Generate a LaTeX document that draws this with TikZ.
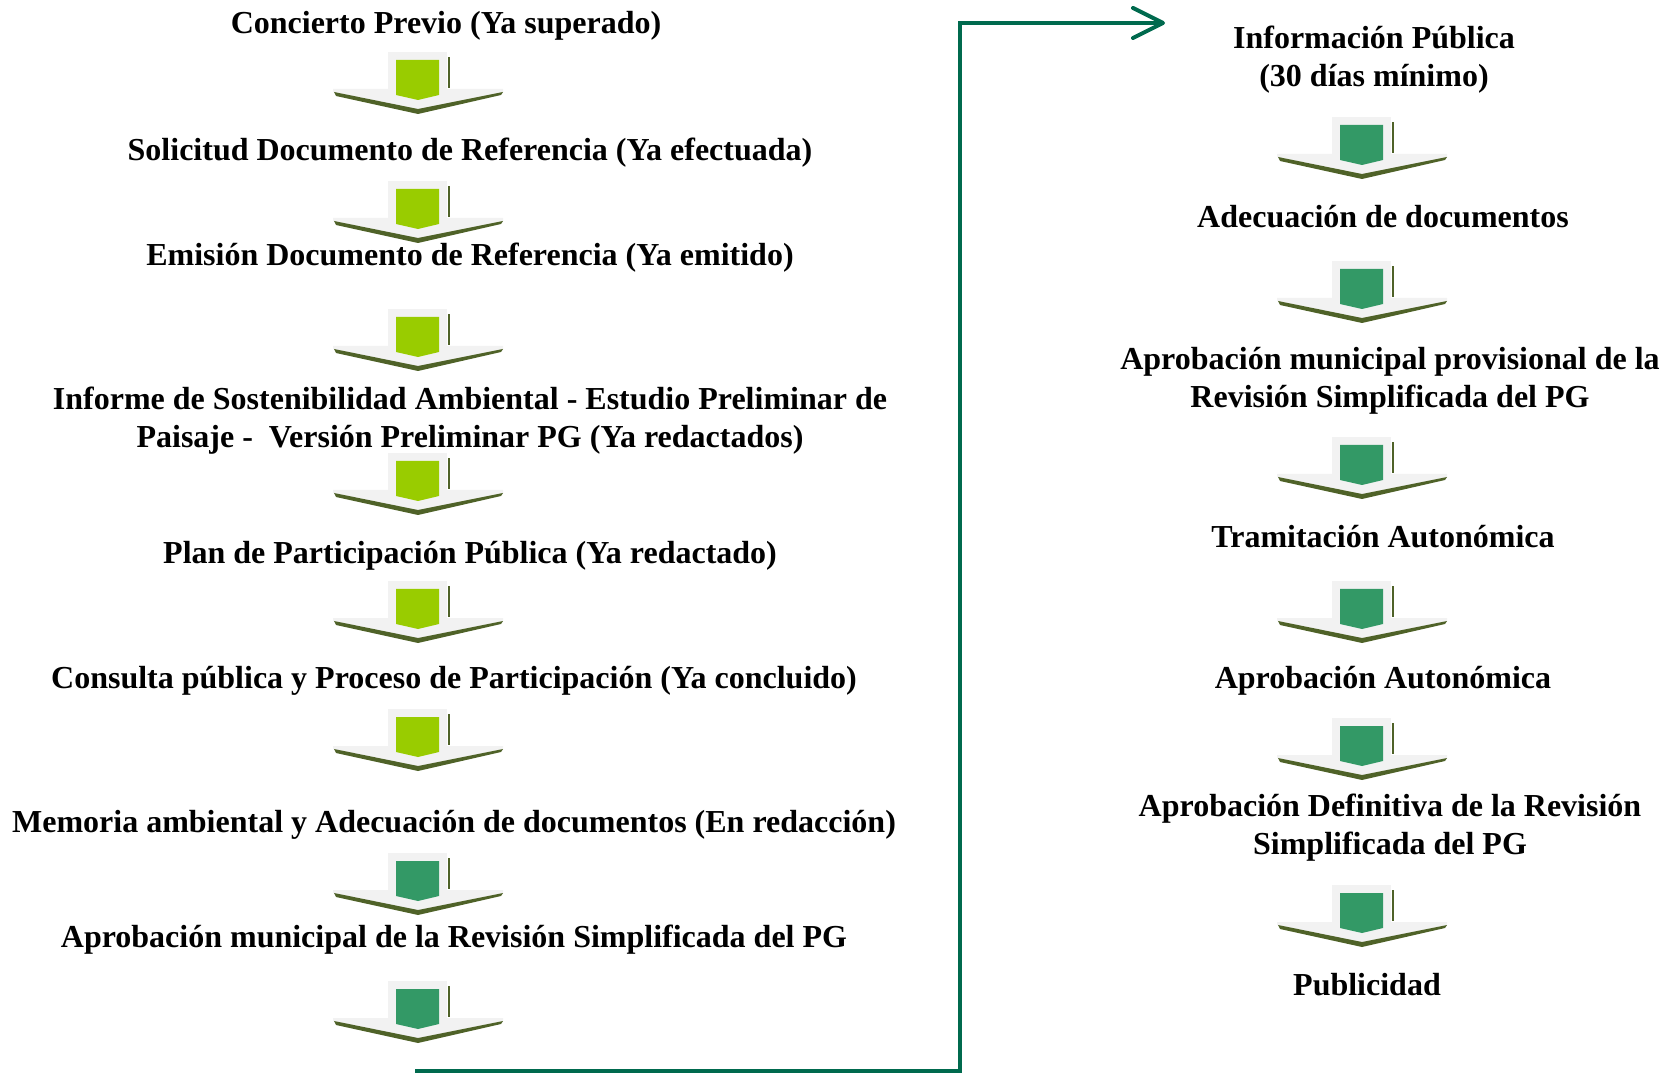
\documentclass[tikz,border=0pt]{standalone}
\usepackage{fontspec}
\setmainfont{Liberation Serif}
\usetikzlibrary{arrows.meta}
\definecolor{donefill}{HTML}{99CC00}
\definecolor{todofill}{HTML}{339966}
\definecolor{arrowshade}{HTML}{4F6228}
\definecolor{arrowface}{HTML}{F2F2F2}
\definecolor{linkgreen}{HTML}{006A4E}
\tikzset{
  stage/.style={font=\fontsize{16pt}{19pt}\selectfont\bfseries, align=center, inner sep=0pt},
  link/.style={draw=linkgreen, line width=2pt, -{Straight Barb[length=15pt,width=15pt,round]}},
  pics/downarrow/.style={code={
    \fill[arrowface] (-30,0) rectangle (29,38);
    \fill[arrowface] (-85,37) -- (85,37) -- (85,40) -- (0,57) -- (-85,40) -- cycle;
    \fill[arrowshade] (-84,40) -- (0,57) -- (85,40) -- (83,43) -- (0,62) -- (-82,44) -- cycle;
    \fill[arrowshade] (29.5,5) rectangle (31.5,36);
    \fill[#1] (-22,8) -- (21,8) -- (21,43) -- (0,48) -- (-22,43) -- cycle;
  }},
}
\begin{document}
\begin{tikzpicture}[x=0.5pt, y=-0.5pt]
  \useasboundingbox (0,0) rectangle (1670,1074);

  % Left column
  \node[stage] (concierto) at (446,26) {Concierto Previo (Ya superado)};
  \node[stage] (solicitud) at (470,153) {Solicitud Documento de Referencia (Ya efectuada)};
  \node[stage] (emision) at (470,258) {Emisión Documento de Referencia (Ya emitido)};
  \node[stage] (informe) at (470,421) {Informe de Sostenibilidad Ambiental - Estudio Preliminar de\\
    Paisaje -~ Versión Preliminar PG (Ya redactados)};
  \node[stage] (plan) at (470,556) {Plan de Participación Pública (Ya redactado)};
  \node[stage] (consulta) at (454,681) {Consulta pública y Proceso de Participación (Ya concluido)};
  \node[stage] (memoria) at (454,825) {Memoria ambiental y Adecuación de documentos (En redacción)};
  \node[stage] (aprobmun) at (454,940) {Aprobación municipal de la Revisión Simplificada del PG};

  \foreach \t/\c in {52/donefill, 181/donefill, 309/donefill, 453/donefill,
                     581/donefill, 709/donefill, 853/todofill, 981/todofill}
    \pic at (418,\t) {downarrow=\c};

  % Right column
  \node[stage] (infopub) at (1374,60) {Información Pública\\(30 días mínimo)};
  \node[stage] (adecuacion) at (1383,217) {Adecuación de documentos};
  \node[stage] (aprobprov) at (1390,381) {Aprobación municipal provisional de la\\
    Revisión Simplificada del PG};
  \node[stage] (tramitacion) at (1383,537) {Tramitación Autonómica};
  \node[stage] (aprobauto) at (1383,681) {Aprobación Autonómica};
  \node[stage] (aprobdef) at (1390,828) {Aprobación Definitiva de la Revisión\\
    Simplificada del PG};
  \node[stage] (publicidad) at (1367,985) {Publicidad};

  \foreach \t in {117, 261, 437, 581, 718, 885}
    \pic at (1362,\t) {downarrow=todofill};

  % Jump between columns
  \coordinate (loopstart) at (415,1071);
  \coordinate (riser) at (960,23);
  \coordinate (jump) at (1165,23);
  \draw[link] (loopstart) -| (riser) -- (jump);
\end{tikzpicture}
\end{document}
